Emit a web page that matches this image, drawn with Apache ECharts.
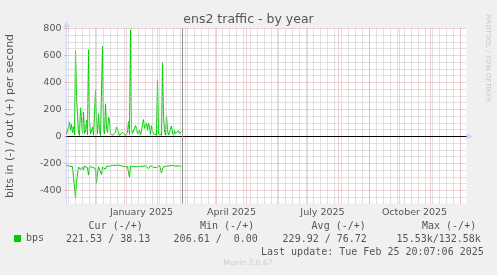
<!DOCTYPE html>
<html>
<head>
<meta charset="utf-8">
<script src="https://cdn.jsdelivr.net/npm/echarts@6/dist/echarts.min.js"></script>
<style>
html,body{margin:0;padding:0;background:#F0F0F0;}
#chart{width:497px;height:275px;}
</style>
</head>
<body>
<div id="chart"></div>
<script>
// ---- data ----
const firstDay = '2024-11-02';          // first daily sample
const outBits = [18,25,70,106,45,90,30,72,12,637,304,291,28,8,212,130,22,180,20,40,119,12,642,119,20,8,69,10,22,341,119,20,168,44,8,20,667,44,20,242,60,30,143,120,25,32,8,20,10,32,70,60,32,8,20,8,32,44,20,8,10,30,110,15,790,60,22,10,30,81,60,20,8,44,10,20,8,125,60,69,98,44,100,69,15,81,44,20,8,32,10,420,20,8,32,10,546,150,40,10,155,44,10,20,8,78,25,10,44,20,8,32,44,20,32,38];
const inBits = [215,220,226,219,228,218,224,230,238,457,335,330,226,218,245,252,224,248,220,228,218,232,286,224,214,220,228,217,222,238,348,276,224,232,220,283,228,218,224,242,220,228,214,220,217,222,214,218,221,214,224,218,212,220,214,218,212,220,224,214,217,222,265,303,220,214,217,222,214,220,224,217,214,222,217,214,220,232,224,217,230,220,238,224,217,214,220,228,217,222,230,217,220,214,224,270,242,224,217,230,220,214,222,217,228,220,214,222,217,220,224,214,217,222,220,222];
const axisStartTime = '2024-11-02T00:00:00Z';
const axisDays = 400;
const lastUpdateTime = '2025-02-25T20:07:06Z';
const monthLines = ['2024-12-01','2025-01-01','2025-02-01','2025-03-01','2025-04-01','2025-05-01','2025-06-01','2025-07-01','2025-08-01','2025-09-01','2025-10-01','2025-11-01','2025-12-01'];
const firstWeekLine = '2024-11-04';
const xLabelDates = ['2025-01-16','2025-04-16','2025-07-16','2025-10-16'];
const xLabelTexts = ['January 2025','April 2025','July 2025','October 2025'];
const yLabels = [-400,-200,0,200,400,600,800];
const yMin = -496.3, yMax = 800;
const yMinorStep = 50, yMajorStep = 200;
const legendHeaders = ['Cur (-/+)','Min (-/+)','Avg (-/+)','Max (-/+)'];
const legendValues = ['221.53 / 38.13','206.61 /  0.00','229.92 / 76.72','15.53k/132.58k'];
const lastUpdateText = 'Last update: Tue Feb 25 20:07:06 2025';
const titleText = 'ens2 traffic - by year';
const yTitle = 'bits in (-) / out (+) per second';
const seriesName = 'bps';

// ---- build ----
const DAY = 86400000;
const t0 = Date.parse(firstDay);
const xMin = Date.parse(axisStartTime);
const xMax = xMin + axisDays * DAY;
const outData = outBits.map((v, i) => [t0 + i * DAY, v]);
const inData = inBits.map((v, i) => [t0 + i * DAY, -v]);
const labelTimes = xLabelDates.map(d => Date.parse(d));

const gridMinor = {color: '#C4C4C4', type: [1, 1], width: 1};
const gridMajor = {color: '#EAA2A2', type: [1, 1], width: 1};
const minorLines = [], majorLines = [];
for (let t = Date.parse(firstWeekLine); t <= xMax; t += 7 * DAY) {
  minorLines.push({xAxis: t, lineStyle: gridMinor});
}
for (let v = Math.ceil(yMin / yMinorStep) * yMinorStep; v <= yMax; v += yMinorStep) {
  if (v % yMajorStep !== 0) minorLines.push({yAxis: v, lineStyle: gridMinor});
  else majorLines.push({yAxis: v, lineStyle: gridMajor});
}
monthLines.forEach(d => majorLines.push({xAxis: Date.parse(d), lineStyle: gridMajor}));

const mono = '"DejaVu Sans Mono", monospace';
const sans = '"DejaVu Sans", sans-serif';
const fontColor = '#555';

const headerX = [88.6, 200, 311.6, 422];
const valueX = [66, 173.6, 282.6, 396.6];
const graphics = [];
function txt(t, x, y, font, fill, align, rot) {
  const g = {type: 'text', x: x, y: y,
    style: {text: t, font: font, fill: fill, align: align, verticalAlign: 'middle', textAlign: align, textVerticalAlign: 'middle'}};
  if (rot) g.rotation = rot;
  graphics.push(g);
}
legendHeaders.forEach((t, i) => txt(t, headerX[i], 226.5, '10px ' + mono, fontColor, 'left'));
legendValues.forEach((t, i) => txt(t, valueX[i], 239.5, '10px ' + mono, fontColor, 'left'));
txt(lastUpdateText, 261, 252, '10px ' + mono, fontColor, 'left');
txt('Munin 2.0.67', 248, 263.5, '7.5px ' + sans, '#CCCCCC', 'center');
txt('RRDTOOL / TOBI OETIKER', 488, 58.5, '6.8px ' + sans, '#C8C8C8', 'center', -Math.PI / 2);

const chart = echarts.init(document.getElementById('chart'), null, {renderer: 'canvas'});
chart.setOption({
  animation: false,
  backgroundColor: '#F0F0F0',
  title: {text: titleText, left: 'center', top: 8.5,
    textStyle: {fontFamily: sans, fontSize: 12.5, fontWeight: 'normal', color: fontColor}},
  grid: {left: 66.5, right: 30.5, top: 28.5, bottom: 71.5, show: true, backgroundColor: '#FFFFFF', borderWidth: 0,
    containLabel: false, outerBoundsMode: 'none'},
  legend: {data: [seriesName], left: 14, top: 233.5, padding: 0, itemWidth: 7, itemHeight: 7, icon: 'rect',
    textStyle: {fontFamily: mono, fontSize: 10, color: fontColor}},
  xAxis: {type: 'value', min: xMin, max: xMax,
    axisLine: {show: true, lineStyle: {color: '#CFD6F8', width: 1}, symbol: ['none', 'triangle'], symbolSize: [7, 6], symbolOffset: [0, 3]},
    axisTick: {show: true, customValues: monthLines.map(d => Date.parse(d)), length: 2, lineStyle: {color: '#EAA2A2'}},
    splitLine: {show: false},
    axisLabel: {customValues: labelTimes, margin: 4, fontFamily: sans, fontSize: 9.5, color: fontColor,
      formatter: v => { let k = 0; labelTimes.forEach((t, i) => { if (Math.abs(t - v) < Math.abs(labelTimes[k] - v)) k = i; }); return xLabelTexts[k]; }}
  },
  yAxis: {type: 'value', min: yMin, max: yMax,
    name: yTitle, nameLocation: 'middle', nameRotate: 90, nameGap: 51,
    nameTextStyle: {fontFamily: sans, fontSize: 11, color: fontColor},
    axisLine: {show: true, lineStyle: {color: '#CFD6F8', width: 1}, symbol: ['none', 'triangle'], symbolSize: [7, 6], symbolOffset: [0, 4]},
    axisTick: {show: true, customValues: yLabels, length: 2, lineStyle: {color: '#EAA2A2'}},
    splitLine: {show: false},
    axisLabel: {customValues: yLabels, margin: 5, fontFamily: sans, fontSize: 9.5, color: fontColor}
  },
  graphic: graphics,
  series: [
    {type: 'line', name: 'grid', data: [], z: 1, silent: true,
      markLine: {silent: true, symbol: 'none', animation: false, label: {show: false}, data: minorLines}},
    {type: 'line', name: 'grid2', data: [], z: 1, silent: true,
      markLine: {silent: true, symbol: 'none', animation: false, label: {show: false}, data: majorLines}},
    {type: 'line', name: 'rules', data: [], z: 2, silent: true,
      markLine: {silent: true, symbol: 'none', animation: false, label: {show: false}, data: [
        {yAxis: 0, lineStyle: {color: '#000000', type: 'solid', width: 1}},
        {xAxis: Date.parse(lastUpdateTime), lineStyle: {color: '#909090', type: 'solid', width: 1}}
      ]}},
    {type: 'line', name: seriesName, data: outData, z: 3, symbol: 'none', color: '#00CC00',
      lineStyle: {color: '#00CC00', width: 1}},
    {type: 'line', name: seriesName, data: inData, z: 3, symbol: 'none', color: '#00CC00',
      lineStyle: {color: '#00CC00', width: 1}}
  ]
});
</script>
</body>
</html>
